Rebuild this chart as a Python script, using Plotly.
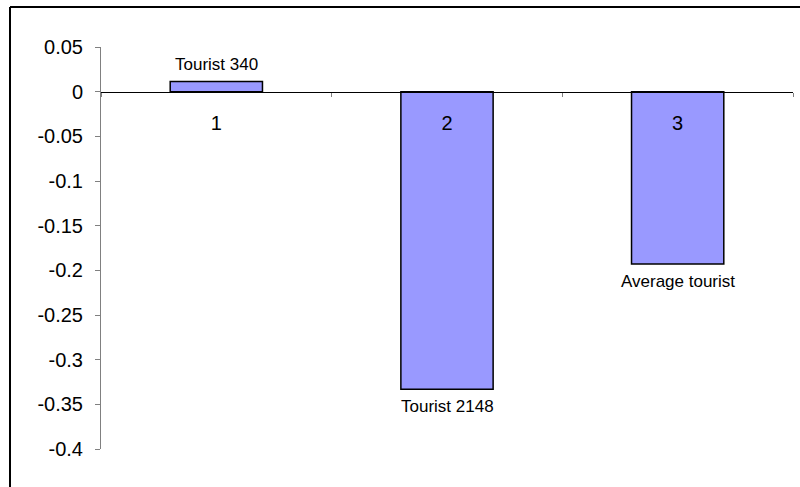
import plotly.graph_objects as go

categories = ["1", "2", "3"]
values = [0.0115, -0.333, -0.193]
point_labels = ["Tourist 340", "Tourist 2148", "Average tourist"]
y_tickvals = [0.05, 0, -0.05, -0.1, -0.15, -0.2, -0.25, -0.3, -0.35, -0.4]
y_ticktext = ["0.05", "0", "-0.05", "-0.1", "-0.15", "-0.2", "-0.25", "-0.3", "-0.35", "-0.4"]

FONT = "Arial, Liberation Sans, sans-serif"
W, H = 800, 487
ml, mr, mt, mb = 101, 7, 47, 38
ymin, ymax = -0.4, 0.05

fig = go.Figure()
fig.add_trace(go.Bar(
    x=categories, y=values,
    marker=dict(color="#9999FF", line=dict(color="#000000", width=1.5)),
    hoverinfo="skip",
))

for i, (v, t) in enumerate(zip(values, point_labels)):
    fig.add_annotation(
        x=i, y=v, text=t, showarrow=False,
        yshift=17 if v > 0 else -17, yanchor="middle", xanchor="center",
        font=dict(family=FONT, size=17, color="#000000"),
    )

pw = W - ml - mr
ph = H - mt - mb
left_x = (10 - ml) / pw
top_y = (H - mb - 7) / ph
fig.add_shape(type="line", xref="paper", yref="paper",
              x0=left_x, x1=left_x, y0=-0.5, y1=top_y,
              line=dict(color="#000000", width=2), layer="above")
fig.add_shape(type="line", xref="paper", yref="paper",
              x0=left_x, x1=1.5, y0=top_y, y1=top_y,
              line=dict(color="#000000", width=2), layer="above")

fig.update_layout(
    width=W, height=H,
    margin=dict(l=ml, r=mr, t=mt, b=mb),
    paper_bgcolor="#FFFFFF", plot_bgcolor="#FFFFFF",
    showlegend=False,
    bargap=0.6,
    font=dict(family=FONT, color="#000000"),
    xaxis=dict(
        type="category",
        range=[-0.5, len(categories) - 0.5],
        anchor="free", position=(0 - ymin) / (ymax - ymin),
        showline=True, linecolor="#000000", linewidth=1,
        ticks="outside", tickson="boundaries", ticklen=4, tickcolor="#808080",
        ticklabelstandoff=13,
        tickfont=dict(family=FONT, size=20, color="#000000"),
        showgrid=False, zeroline=False,
    ),
    yaxis=dict(
        range=[ymin, ymax],
        tickvals=y_tickvals, ticktext=y_ticktext,
        showline=True, linecolor="#808080", linewidth=1,
        ticks="outside", ticklen=5, tickcolor="#808080",
        ticklabelstandoff=8,
        tickfont=dict(family=FONT, size=20, color="#000000"),
        showgrid=False, zeroline=False,
    ),
)

fig.write_html("out.html")
